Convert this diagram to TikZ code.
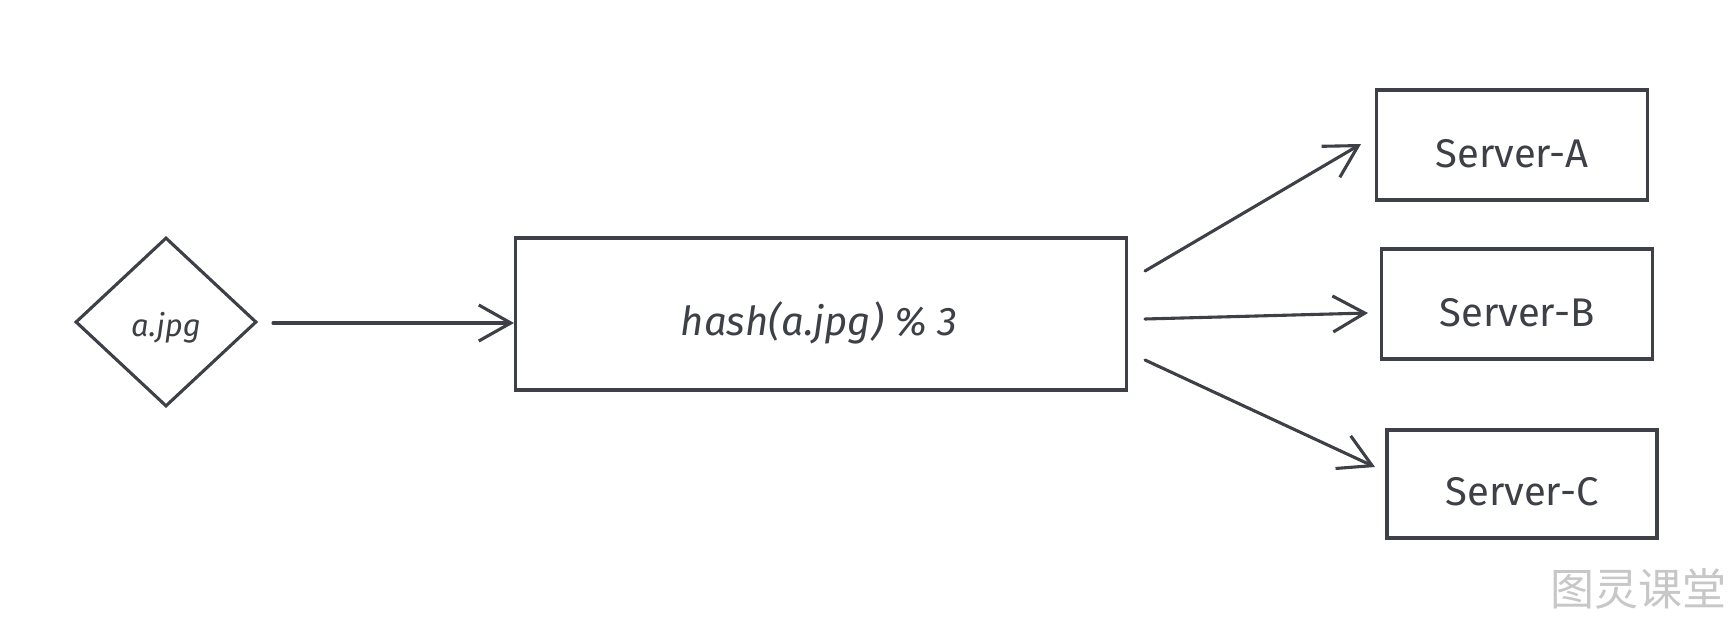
\documentclass[tikz,border=0pt]{standalone}
\usepackage{fontspec}
\setmainfont{Fira Sans}
\newfontfamily\cjkfont{Noto Sans CJK SC}
\usetikzlibrary{arrows.meta,shapes.geometric}
\definecolor{ink}{HTML}{3D4046}
\tikzset{
  box/.style={draw=ink, line width=3.1pt, rectangle, inner sep=0pt, text=ink},
  link/.style={draw=ink, line width=3.1pt, line cap=round, -{Straight Barb[length=32pt,width=36pt,line width=3.1pt]}},
  lbl/.style={text=ink, font=\fontsize{40}{46}\selectfont}
}
\begin{document}
\begin{tikzpicture}[x=1pt,y=-1pt]
\useasboundingbox (0,0) rectangle (1736,620);
\fill[white] (0,0) rectangle (1736,620);
\node[diamond, draw=ink, line width=3.1pt, minimum width=181pt, minimum height=169pt, aspect=1.07, inner sep=0pt] (img) at (166,322) {};
\node[text=ink, font=\itshape\fontsize{31}{36}\selectfont] (imgtxt) at (166,328) {a.jpg};
\node[box, minimum width=611pt, minimum height=152pt] (hash) at (821,314) {};
\node[text=ink, font=\itshape\fontsize{40}{46}\selectfont] (hashtxt) at (819,323) {hash(a.jpg) \% 3};
\node[box, minimum width=271pt, minimum height=110pt] (sa) at (1512,145) {};
\node[box, minimum width=271pt, minimum height=110pt] (sb) at (1517,304) {};
\node[box, minimum width=270pt, minimum height=108pt] (sc) at (1522,484) {};
\node[lbl] (ta) at (1512,154) {Server-A};
\node[lbl] (tb) at (1517,313) {Server-B};
\node[lbl] (tc) at (1522,492) {Server-C};
\coordinate (h1) at (1145,271);
\coordinate (h2) at (1145,319);
\coordinate (h3) at (1145,360);
\coordinate (d1) at (273,323);
\draw[link] (d1) -- (hash.west |- d1);
\draw[link] (h1) -- (1361,144);
\draw[link] (h2) -- (1368,313);
\draw[link] (h3) -- (1375,467);
\node[text=black!22, font=\cjkfont\fontsize{44}{48}\selectfont, anchor=east] (wm) at (1730,589) {图灵课堂};
\end{tikzpicture}
\end{document}
